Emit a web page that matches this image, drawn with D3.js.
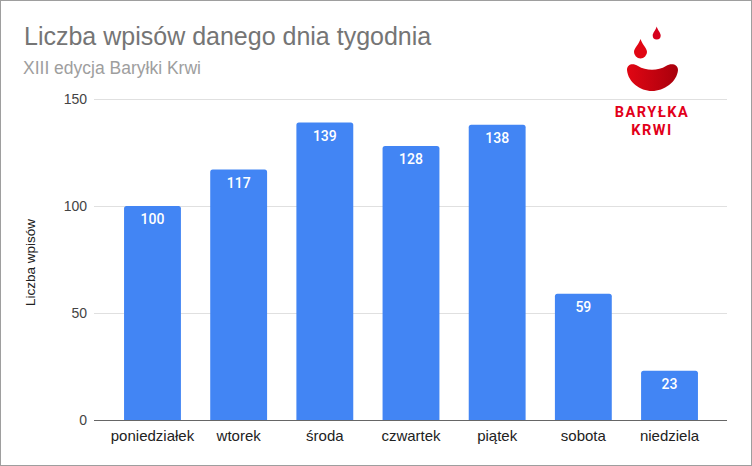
<!DOCTYPE html>
<html><head><meta charset="utf-8">
<script src="https://cdn.jsdelivr.net/npm/d3@7/dist/d3.min.js"></script>
<style>
html,body{margin:0;padding:0;background:#fff;}
svg{display:block;font-family:Roboto,Arial,sans-serif;}
</style></head>
<body>
<script>
const categories = ["poniedziałek","wtorek","środa","czwartek","piątek","sobota","niedziela"];
const values = [100,117,139,128,138,59,23];
const yTicks = [0,50,100,150];
const title = "Liczba wpisów danego dnia tygodnia";
const subtitle = "XIII edycja Baryłki Krwi";
const yAxisTitle = "Liczba wpisów";

const W = 752, H = 466;
const AR = "Arial, 'Liberation Sans', sans-serif";
const svg = d3.select("body").append("svg").attr("width", W).attr("height", H);

svg.append("rect").attr("x",0.5).attr("y",0.5).attr("width",W-1).attr("height",H-1)
  .attr("fill","#fff").attr("stroke","#9e9e9e");

const plotL = 94, plotR = 727, plotT = 99, plotB = 420;
const y = d3.scaleLinear().domain([0,150]).range([plotB, plotT]);
const x = d3.scaleBand().domain(categories).range([109.4, 712.6]).paddingInner(0.34).paddingOuter(0.17);

// gridlines
svg.append("g").selectAll("line").data(yTicks.filter(d=>d>0)).join("line")
  .attr("x1",plotL).attr("x2",plotR).attr("y1",d=>y(d)+0.5).attr("y2",d=>y(d)+0.5)
  .attr("stroke","#e0e0e0").attr("stroke-width",1);

// y axis labels
const yAxis = d3.axisLeft(y).tickValues(yTicks).tickSize(0).tickPadding(0);
const gy = svg.append("g").attr("transform",`translate(${plotL-7},0)`).call(yAxis);
gy.select(".domain").remove();
gy.selectAll("text").attr("font-size",14).attr("fill","#444").attr("font-family",AR);

// bars
const r = 2.5;
function barPath(x0,y0,w,h){
  return `M${x0},${y0+h}V${y0+r}Q${x0},${y0} ${x0+r},${y0}H${x0+w-r}Q${x0+w},${y0} ${x0+w},${y0+r}V${y0+h}Z`;
}
svg.append("g").selectAll("path").data(values).join("path")
  .attr("d",(d,i)=>barPath(x(categories[i]), y(d), x.bandwidth(), y(0)-y(d)))
  .attr("fill","#4285f4");

svg.append("g").selectAll("text").data(values).join("text")
  .attr("x",(d,i)=>x(categories[i])+x.bandwidth()/2)
  .attr("y",d=>y(d)+18)
  .attr("text-anchor","middle").attr("font-size",14).attr("font-weight",500)
  .attr("fill","#fff").text(d=>d);

// baseline
svg.append("line").attr("x1",plotL).attr("x2",plotR).attr("y1",plotB+0.5).attr("y2",plotB+0.5)
  .attr("stroke","#666").attr("stroke-width",1.2);

// x axis labels
const xAxis = d3.axisBottom(x).tickSize(0).tickPadding(0);
const gx = svg.append("g").attr("transform",`translate(0,${plotB+10})`).call(xAxis);
gx.select(".domain").remove();
gx.selectAll("text").attr("font-size",15).attr("fill","#222").attr("font-family",AR);

// titles
svg.append("text").attr("x",24).attr("y",45).attr("font-size",25).attr("fill","#757575")
  .attr("font-family",AR).text(title);
svg.append("text").attr("x",23).attr("y",73.5).attr("font-size",17.5).attr("fill","#9e9e9e")
  .attr("font-family",AR).text(subtitle);

svg.append("text").attr("transform",`translate(35,262.5) rotate(-90)`)
  .attr("text-anchor","middle").attr("font-size",13.5).attr("fill","#222")
  .attr("font-family",AR).text(yAxisTitle);

// logo
const defs = svg.append("defs");
const grad = defs.append("linearGradient").attr("id","lg").attr("x1","0").attr("x2","1");
grad.append("stop").attr("offset","0").attr("stop-color","#e10613");
grad.append("stop").attr("offset","1").attr("stop-color","#a8000c");
const logo = svg.append("g");
function drop(cx,top,w,h){
  const rr=w/2, cy=top+h-rr;
  return `M${cx},${top}C${cx+rr*0.3},${top+h*0.3} ${cx+rr},${cy-rr*0.6} ${cx+rr},${cy}A${rr},${rr} 0 1 1 ${cx-rr},${cy}C${cx-rr},${cy-rr*0.6} ${cx-rr*0.3},${top+h*0.3} ${cx},${top}Z`;
}
logo.append("path").attr("d",drop(656.7,26.5,8,13)).attr("fill","#d6001c");
logo.append("path").attr("d",drop(640.5,39,13,19.5)).attr("fill","#e10613");
logo.append("path").attr("d","M627,70 C627,64 633,63 638,66 C646,71 658,71 666,66 C671,63 678,64 678,70 C677,82 664,91 652,91 C640,91 628,82 627,70Z")
  .attr("fill","url(#lg)");
svg.append("text").attr("x",652).attr("y",116.5).attr("text-anchor","middle").attr("font-size",14.5)
  .attr("font-weight",700).attr("fill","#e2001a").attr("letter-spacing",1.5).text("BARYŁKA");
svg.append("text").attr("x",652).attr("y",135).attr("text-anchor","middle").attr("font-size",14.5)
  .attr("font-weight",700).attr("fill","#e2001a").attr("letter-spacing",1.5).text("KRWI");
</script>
</body></html>
